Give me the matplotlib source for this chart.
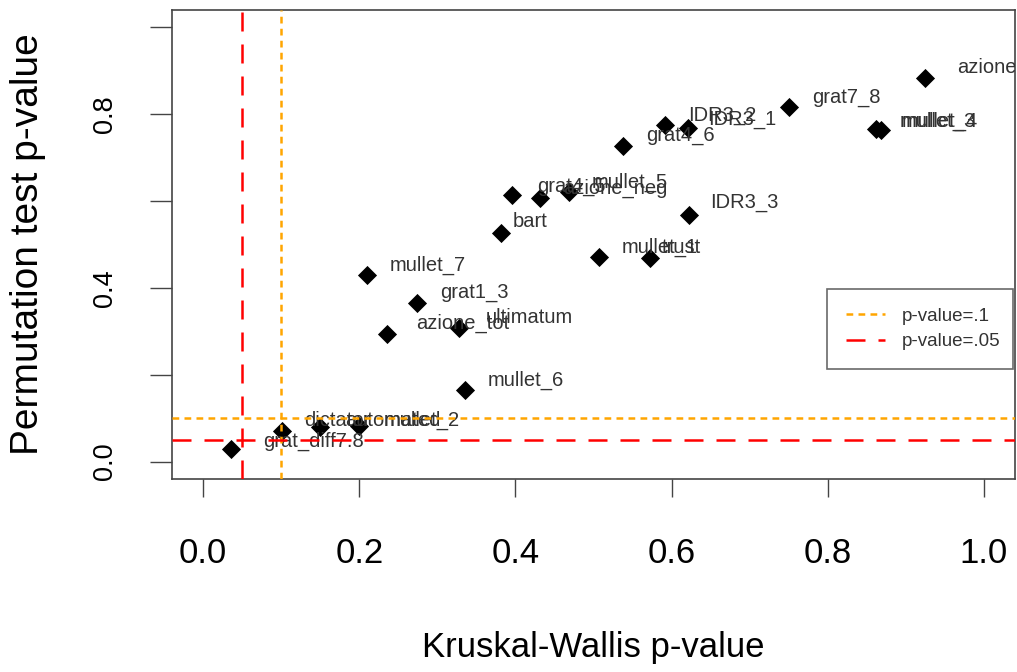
import numpy as np
import matplotlib
matplotlib.use("Agg")
import matplotlib.pyplot as plt
from matplotlib.lines import Line2D

# Kruskal-Wallis vs permutation test p-values, one point per variable
names = ["grat_diff7.8", "dictator", "automated", "mullet_2", "mullet_6",
         "azione_tot", "ultimatum", "grat1_3", "mullet_7", "bart",
         "grat4_5", "azione_neg", "mullet_5", "mullet_1", "trust",
         "IDR3_3", "grat4_6", "IDR3_2", "IDR3_1", "grat7_8",
         "mullet_3", "mullet_4", "azione_pos"]
kw_p = [0.035, 0.101, 0.150, 0.199, 0.335,
        0.236, 0.328, 0.274, 0.210, 0.382,
        0.396, 0.432, 0.468, 0.507, 0.572,
        0.622, 0.538, 0.592, 0.621, 0.750,
        0.862, 0.868, 0.925]
perm_p = [0.030, 0.070, 0.079, 0.081, 0.164,
          0.295, 0.307, 0.366, 0.430, 0.527,
          0.615, 0.607, 0.621, 0.471, 0.470,
          0.567, 0.727, 0.775, 0.769, 0.816,
          0.766, 0.763, 0.883]

# text offsets (pixels) of the labels, default plus a few odd ones
lab_off = (23, 10)
nudge = {"grat_diff7.8": (33, 7), "bart": (11, 11), "trust": (12, 10),
         "azione_pos": (32, 11), "azione_tot": (29, 10), "ultimatum": (27, 11),
         "IDR3_3": (21, 13), "dictator": (22, 11), "automated": (25, 7),
         "mullet_2": (25, 6), "IDR3_1": (20, 8), "mullet_4": (21, 9),
         "mullet_3": (24, 8), "grat4_5": (25, 8)}

FONT = ["Liberation Sans", "DejaVu Sans"]
plt.rcParams["font.family"] = FONT

fig = plt.figure(figsize=(10.17, 6.72), dpi=100)
ax = fig.add_axes([172/1017, 1-479/672, (1015-172)/1017, (479-10)/672])

ax.scatter(kw_p, perm_p, marker="D", s=95, color="black", zorder=3, linewidths=0)

px2pt = 72/100.
for n, x, y in zip(names, kw_p, perm_p):
    dx, dy = nudge.get(n, lab_off)
    ax.annotate(n, (x, y), xytext=(dx*px2pt, dy*px2pt), textcoords="offset points",
                ha="left", va="center", fontsize=14.5, color="#333333",
                annotation_clip=False, clip_on=True, zorder=4)

ax.axvline(0.1, color="#FFA500", lw=1.8, dashes=(2.7, 2.1), zorder=5)
ax.axhline(0.1, color="#FFA500", lw=1.8, dashes=(2.7, 2.1), zorder=5)
ax.axvline(0.05, color="#FF0000", lw=1.8, dashes=(7.6, 5.2), zorder=5)
ax.axhline(0.05, color="#FF0000", lw=1.8, dashes=(7.6, 5.2), zorder=5)

ax.set_xlim(-0.04, 1.04)
ax.set_ylim(-0.04, 1.04)
for s in ax.spines.values():
    s.set_color("#444444")
    s.set_linewidth(1.2)

ax.set_xticks(np.arange(0, 1.01, 0.2))
ax.set_xticklabels(["0.0", "0.2", "0.4", "0.6", "0.8", "1.0"], fontsize=25)
ax.set_yticks(np.arange(0, 1.01, 0.2))
ax.set_yticklabels(["0.0", "", "0.4", "", "0.8", ""], fontsize=19.5, rotation=90, va="center")
ax.tick_params(axis="x", length=13, width=1, color="#444444", pad=29)
ax.tick_params(axis="y", length=16, width=1, color="#444444", pad=23)

ax.set_xlabel("Kruskal-Wallis p-value", fontsize=25, labelpad=44)
ax.set_ylabel("Permutation test p-value", fontsize=28, labelpad=33)

handles = [Line2D([], [], color="#FFA500", lw=1.8, dashes=(2.7, 2.1)),
           Line2D([], [], color="#FF0000", lw=1.8, dashes=(7.6, 5.2))]
leg = ax.legend(handles, ["p-value=.1", "p-value=.05"], loc="upper left",
                bbox_to_anchor=((827-172)/843, (479-289)/469, (1013-827)/843, 0.0),
                mode="expand", fontsize=13.5, frameon=True, fancybox=False,
                borderpad=1.0, labelspacing=0.45, handlelength=2.1,
                handletextpad=0.9, borderaxespad=0)
leg.get_frame().set_edgecolor("#444444")
leg.get_frame().set_linewidth(1.2)
for t in leg.get_texts():
    t.set_color("#333333")

fig.savefig("out.png", dpi=100)
